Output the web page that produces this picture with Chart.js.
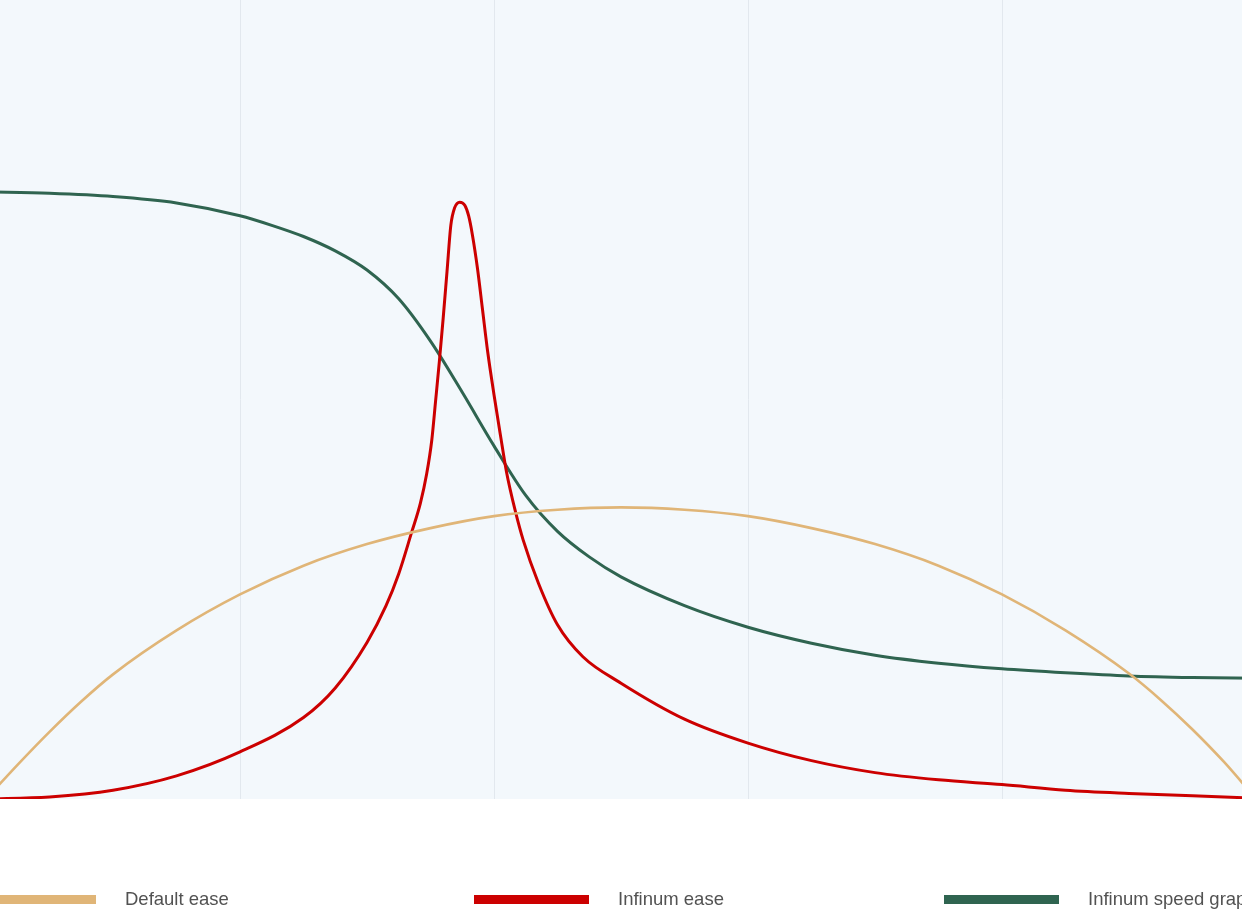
<!DOCTYPE html>
<html>
<head>
<meta charset="utf-8">
<script src="https://cdn.jsdelivr.net/npm/chart.js@4"></script>
<style>
  html, body { margin: 0; padding: 0; background: #ffffff; overflow: hidden; }
  body { width: 1242px; height: 922px; position: relative; }
  #wrap { position: absolute; left: -14px; top: 0; width: 1270px; height: 800px; }
  #legend { position: absolute; left: 0; top: 0; width: 1242px; height: 922px; pointer-events: none; overflow: hidden; }
  .item { position: absolute; top: 887px; height: 24px; display: flex; align-items: center; white-space: nowrap;
          font-family: "Liberation Sans", Arial, sans-serif; font-size: 18.5px; color: #525252; }
  .swatch { width: 115px; height: 9px; margin-right: 29px; flex: none; }
</style>
</head>
<body>
<div id="wrap"><canvas id="c" width="1270" height="800"></canvas></div>
<div id="legend"></div>
<script>
// Default ease (time in ms, speed in %)
const defaultEaseTime = [0, 25, 50, 75, 100, 150, 200, 250, 300, 350, 400, 450, 500, 550, 600, 650, 700, 750,
  800, 850, 900, 925, 950, 975, 1000];
const defaultEase = [0, 4.3, 8.4, 12.2, 15.6, 21.1, 25.6, 29.2, 31.9, 33.9, 35.4, 36.2, 36.5, 36.2, 35.4, 33.9,
  31.9, 29.2, 25.6, 21.1, 15.7, 12.4, 8.7, 4.6, 0];

// Infinum ease
const infinumEaseTime = [0, 50, 100, 150, 200, 250, 275, 300, 315, 325, 335, 342, 347, 351, 354, 357, 360, 363,
  366, 369, 373, 377, 380, 383, 387, 391, 395, 400, 405, 410, 417, 423, 435, 450, 470, 500, 550, 600, 650, 700,
  750, 800, 850, 900, 950, 1000];
const infinumEase = [0, 0.25, 1.1, 2.9, 5.9, 10.2, 13.9, 19.6, 24.2, 28.2, 33.3, 37.0, 40.7, 44.9, 49.8, 54.8,
  60.2, 66.0, 71.8, 74.0, 74.7, 74.3, 73.0, 70.6, 66.4, 61.2, 56.0, 50.6, 45.6, 40.8, 35.9, 32.4, 27.0, 21.8,
  17.8, 14.5, 10.0, 7.0, 4.8, 3.3, 2.4, 1.8, 1.1, 0.7, 0.4, 0.1];

// Infinum speed graph
const infinumSpeedTime = [0, 50, 100, 150, 200, 225, 250, 275, 300, 325, 350, 375, 400, 425, 450, 475, 500, 550,
  600, 650, 700, 750, 800, 850, 900, 950, 1000];
const infinumSpeed = [76.0, 75.8, 75.4, 74.6, 73.0, 71.8, 70.4, 68.6, 66.2, 62.6, 57.3, 50.9, 44.2, 38.0, 33.5,
  30.3, 27.8, 24.2, 21.5, 19.5, 18.0, 17.0, 16.3, 15.8, 15.4, 15.2, 15.1];

const seriesLabels = ["Default ease", "Infinum ease", "Infinum speed graph"];
const seriesColors = ["#e0b577", "#cc0000", "#2f6450"];
const seriesTimes = [defaultEaseTime, infinumEaseTime, infinumSpeedTime];
const seriesValues = [defaultEase, infinumEase, infinumSpeed];

const toPoints = (xs, ys) => ys.map((v, i) => ({ x: xs[i], y: v }));

const plotBg = {
  id: 'plotBg',
  beforeDraw(chart) {
    const { ctx, chartArea: a } = chart;
    ctx.save();
    ctx.fillStyle = '#f3f8fc';
    ctx.fillRect(a.left, a.top, a.right - a.left, a.bottom - a.top);
    ctx.restore();
  }
};

const chart = new Chart(document.getElementById('c'), {
  type: 'line',
  data: {
    datasets: seriesLabels.map((label, i) => ({
      label,
      data: toPoints(seriesTimes[i], seriesValues[i]),
      borderColor: seriesColors[i],
      backgroundColor: seriesColors[i],
      borderWidth: i === 0 ? 2.6 : 3,
      pointRadius: 0,
      cubicInterpolationMode: 'monotone',
      fill: false
    }))
  },
  options: {
    responsive: false,
    animation: false,
    devicePixelRatio: 1,
    layout: { padding: { top: 0, left: 0, right: 0, bottom: 1 } },
    plugins: { legend: { display: false }, tooltip: { enabled: false } },
    scales: {
      x: {
        type: 'linear', min: 0, max: 1000,
        ticks: { display: false, stepSize: 200 },
        grid: { color: '#e2e8ee', lineWidth: 1, drawTicks: false },
        border: { display: false }
      },
      y: { display: false, min: 0, max: 100 }
    }
  },
  plugins: [plotBg]
});

// HTML legend built from the chart's datasets
const legendLeft = [-19, 474, 944];
const legendEl = document.getElementById('legend');
chart.data.datasets.forEach((ds, i) => {
  const item = document.createElement('div');
  item.className = 'item';
  item.style.left = legendLeft[i] + 'px';
  const sw = document.createElement('span');
  sw.className = 'swatch';
  sw.style.background = ds.borderColor;
  const tx = document.createElement('span');
  tx.textContent = ds.label;
  item.appendChild(sw);
  item.appendChild(tx);
  legendEl.appendChild(item);
});
</script>
</body>
</html>
